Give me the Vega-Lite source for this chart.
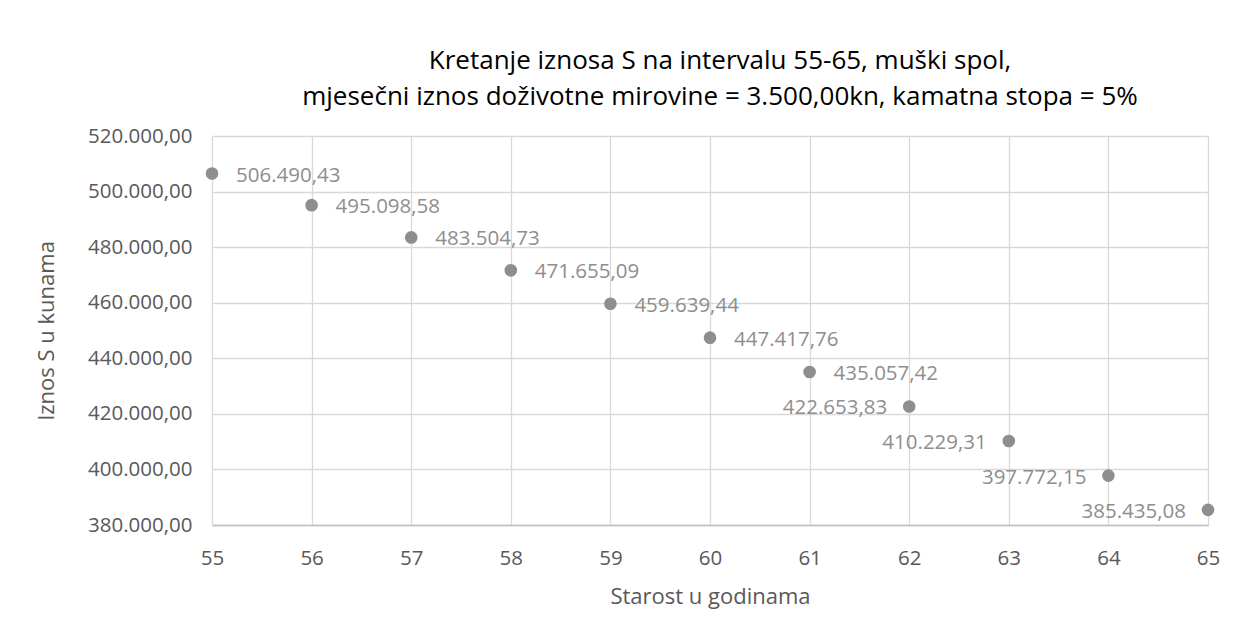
{
  "$schema": "https://vega.github.io/schema/vega-lite/v6.json",
  "width": 996,
  "height": 389,
  "autosize": {"type": "none"},
  "padding": {"left": 212, "top": 136, "right": 29, "bottom": 109},
  "background": "white",
  "config": {
    "locale": {"number": {"decimal": ",", "thousands": ".", "grouping": [3], "currency": ["", " kn"]}},
    "font": "Open Sans",
    "view": {"stroke": null},
    "axis": {"labelFont": "Open Sans", "titleFont": "Open Sans", "labelColor": "#595959", "titleColor": "#595959", "labelFontSize": 20.5, "titleFontSize": 22, "titleFontWeight": "normal", "gridColor": "#d9d9d9", "gridWidth": 1.3, "ticks": false, "labelFlush": false}
  },
  "title": {
    "text": ["Kretanje iznosa S na intervalu 55-65, muški spol,", "mjesečni iznos doživotne mirovine = 3.500,00kn, kamatna stopa = 5%"],
    "font": "Open Sans",
    "fontSize": 26,
    "fontWeight": "normal",
    "color": "#000000",
    "anchor": "middle",
    "dx": 10,
    "offset": 16,
    "lineHeight": 36
  },
  "data": {"values": [
    {"starost": 55, "iznos": 506490.43},
    {"starost": 56, "iznos": 495098.58},
    {"starost": 57, "iznos": 483504.73},
    {"starost": 58, "iznos": 471655.09},
    {"starost": 59, "iznos": 459639.44},
    {"starost": 60, "iznos": 447417.76},
    {"starost": 61, "iznos": 435057.42},
    {"starost": 62, "iznos": 422653.83},
    {"starost": 63, "iznos": 410229.31},
    {"starost": 64, "iznos": 397772.15},
    {"starost": 65, "iznos": 385435.08}
  ]},
  "encoding": {
    "x": {"field": "starost", "type": "quantitative", "scale": {"domain": [55, 65], "nice": false, "zero": false},
      "axis": {"values": [55,56,57,58,59,60,61,62,63,64,65], "title": "Starost u godinama", "labelPadding": 23, "titlePadding": 18, "domainColor": "#bfbfbf", "domainWidth": 1.5, "grid": true}},
    "y": {"field": "iznos", "type": "quantitative", "scale": {"domain": [380000, 520000], "nice": false, "zero": false},
      "axis": {"values": [380000,400000,420000,440000,460000,480000,500000,520000], "format": ",.2f", "title": "Iznos S u kunama", "labelPadding": 20, "titlePadding": 29, "domain": false, "grid": true}}
  },
  "layer": [
    {"mark": {"type": "point", "filled": true, "opacity": 1, "color": "#8e8e8e", "size": 160}},
    {"transform": [{"filter": "datum.starost <= 61"}],
     "mark": {"type": "text", "align": "left", "baseline": "middle", "dx": 24, "dy": 2, "fontSize": 20.5, "color": "#8e8e8e", "font": "Open Sans"},
     "encoding": {"text": {"field": "iznos", "type": "quantitative", "format": ",.2f"}}},
    {"transform": [{"filter": "datum.starost > 61"}],
     "mark": {"type": "text", "align": "right", "baseline": "middle", "dx": -22, "dy": 2, "fontSize": 20.5, "color": "#8e8e8e", "font": "Open Sans"},
     "encoding": {"text": {"field": "iznos", "type": "quantitative", "format": ",.2f"}}}
  ]
}
